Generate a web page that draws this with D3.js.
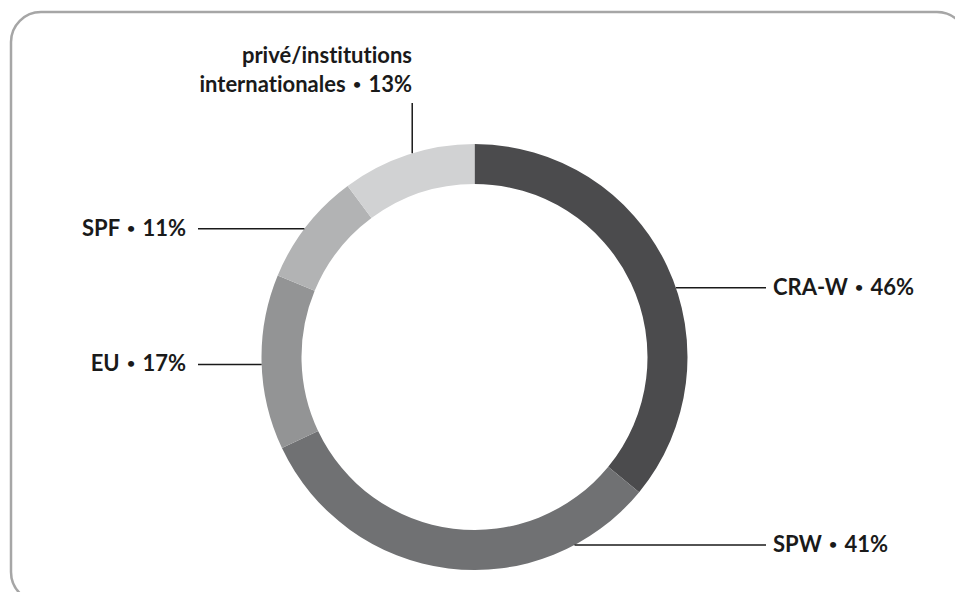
<!DOCTYPE html>
<html>
<head>
<meta charset="utf-8">
<script src="https://cdn.jsdelivr.net/npm/d3@7"></script>
<style>
  body { margin: 0; background: #fff; }
  .label { font-family: Lato, "Open Sans", sans-serif; font-weight: 700; font-size: 22px; fill: #1a1a1a;
           font-variant-ligatures: none; font-feature-settings: "liga" 0; word-spacing: 2px; }
  .dot { font-size: 14px; }
</style>
</head>
<body>
<div id="chart"></div>
<script>
// 1: DATA
const categories = ["CRA-W", "SPW", "EU", "SPF", "privé/institutions internationales"];
const values = [46, 41, 17, 11, 13];
const colors = ["#4b4b4d", "#707173", "#939495", "#b2b3b4", "#d1d2d3"];

// label layout: angle (deg, clockwise from top) where the leader touches the ring
const labelAngles = [71, 152, 268, 307, 343];

// 2: SVG
const W = 955, H = 592;
const svg = d3.select("#chart").append("svg")
    .attr("width", W)
    .attr("height", H);

// rounded frame
svg.append("rect")
    .attr("x", 11).attr("y", 12)
    .attr("width", 956).attr("height", 590)
    .attr("rx", 30).attr("ry", 30)
    .attr("fill", "none")
    .attr("stroke", "#a6a6a6")
    .attr("stroke-width", 2.5);

const cx = 474.5, cy = 357, R = 213, r = 173;
const g = svg.append("g").attr("transform", `translate(${cx},${cy})`);

// 3: PIE
const pie = d3.pie().sort(null).value(d => d)(values);
const arc = d3.arc().innerRadius(r).outerRadius(R);

g.selectAll("path")
    .data(pie)
    .enter()
    .append("path")
    .attr("d", arc)
    .attr("fill", (d, i) => colors[i]);

// 4: LABELS
const pt = a => {
    const t = a * Math.PI / 180;
    return [R * Math.sin(t), -R * Math.cos(t)];
};
// "name • value%" with a smaller bullet
const writeLabel = (sel, name, v) => {
    sel.append("tspan").text(name + " ");
    sel.append("tspan").attr("class", "dot").attr("dy", -3).text("•");
    sel.append("tspan").attr("dy", 3).text(" " + v + "%");
};

// right side labels (CRA-W, SPW)
[0, 1].forEach(i => {
    const [x, y] = pt(labelAngles[i]);
    g.append("line")
        .attr("x1", x).attr("y1", y)
        .attr("x2", 766 - cx).attr("y2", y)
        .attr("stroke", "#1a1a1a").attr("stroke-width", 1.5);
    const t = g.append("text")
        .attr("class", "label")
        .attr("x", 773 - cx).attr("y", y + 7);
    writeLabel(t, categories[i], values[i]);
});

// left side labels (EU, SPF)
[2, 3].forEach(i => {
    const [x, y] = pt(labelAngles[i]);
    g.append("line")
        .attr("x1", x).attr("y1", y)
        .attr("x2", 198 - cx).attr("y2", y)
        .attr("stroke", "#1a1a1a").attr("stroke-width", 1.5);
    const t = g.append("text")
        .attr("class", "label")
        .attr("text-anchor", "end")
        .attr("x", 186 - cx).attr("y", y + 7);
    writeLabel(t, categories[i], values[i]);
});

// top label (privé)
{
    const i = 4;
    const [x, y] = pt(labelAngles[i]);
    g.append("line")
        .attr("x1", x).attr("y1", y)
        .attr("x2", x).attr("y2", 103 - cy)
        .attr("stroke", "#1a1a1a").attr("stroke-width", 1.5);
    const words = categories[i].split(" ");
    g.append("text")
        .attr("class", "label")
        .attr("text-anchor", "end")
        .attr("x", 412 - cx).attr("y", 63 - cy)
        .text(words[0]);
    const t2 = g.append("text")
        .attr("class", "label")
        .attr("text-anchor", "end")
        .attr("x", 412 - cx).attr("y", 92 - cy);
    writeLabel(t2, words[1], values[i]);
}
</script>
</body>
</html>
